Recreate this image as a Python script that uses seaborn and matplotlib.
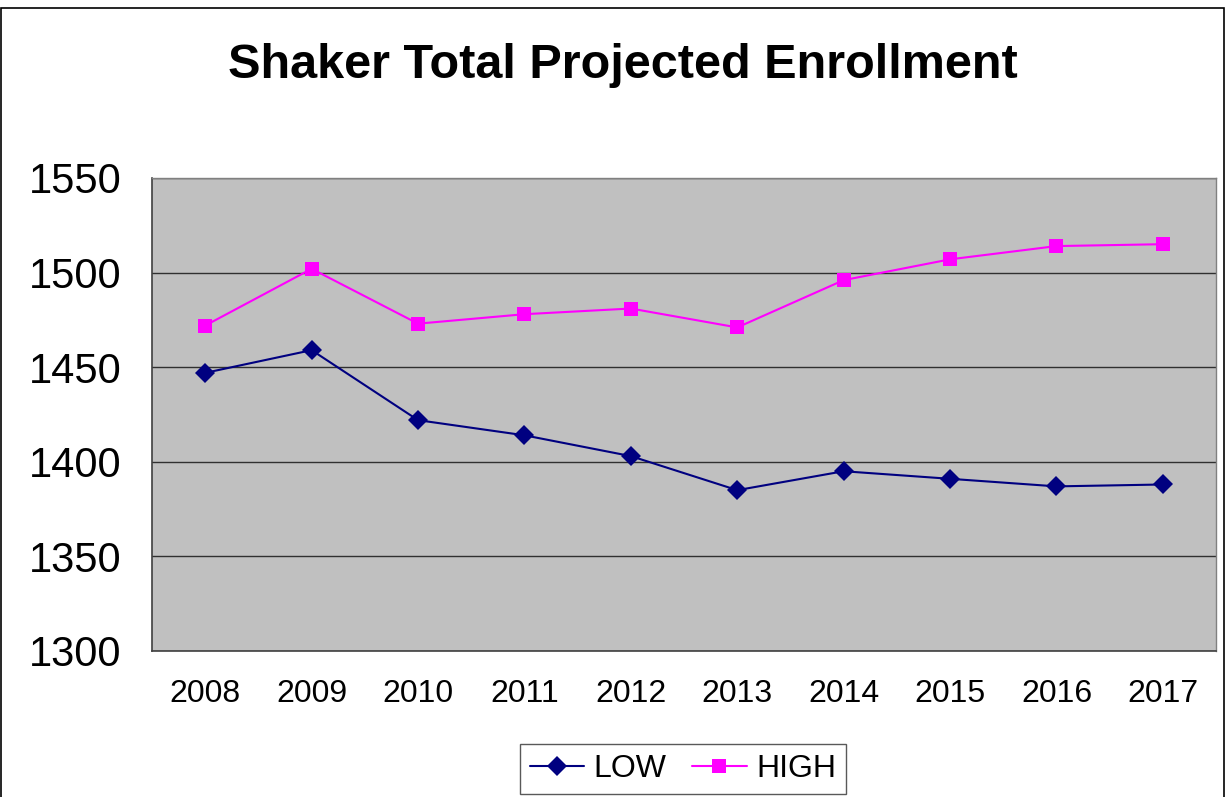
import numpy as np
import pandas as pd
import seaborn as sns
import matplotlib.pyplot as plt
from matplotlib.patches import Rectangle

years = ['2008', '2009', '2010', '2011', '2012', '2013', '2014', '2015', '2016', '2017']
low = [1447, 1459, 1422, 1414, 1403, 1385, 1395, 1391, 1387, 1388]
high = [1472, 1502, 1473, 1478, 1481, 1471, 1496, 1507, 1514, 1515]
y_ticks = [1300, 1350, 1400, 1450, 1500, 1550]

df = pd.DataFrame({'pos': list(range(len(years))) * 2,
                   'value': low + high,
                   'series': ['LOW'] * len(years) + ['HIGH'] * len(years)})

sns.set_style('white')
plt.rcParams['font.family'] = ['Liberation Sans', 'DejaVu Sans']
plt.rcParams['text.color'] = 'black'

fig = plt.figure(figsize=(12.25, 7.97), dpi=100)
ax = fig.add_axes([0.1241, 0.1832, 0.8686, 0.5935])
ax.set_facecolor('#C0C0C0')

palette = {'LOW': '#000080', 'HIGH': '#FF00FF'}
markers = {'LOW': 'D', 'HIGH': 's'}
sns.lineplot(data=df, x='pos', y='value', hue='series', style='series',
             palette=palette, markers=markers, dashes=False, markersize=10,
             markeredgewidth=0, linewidth=1.5, ax=ax, legend=True)

ax.set_xlim(-0.5, len(years) - 0.5)
ax.set_ylim(1300, 1550)
ax.set_yticks(y_ticks)
ax.set_yticklabels([str(t) for t in y_ticks], fontsize=30)
ax.set_xticks(range(len(years)))
ax.set_xticklabels(years, fontsize=23)
ax.set_xticks(np.arange(-0.5, len(years), 1.0), minor=True)
ax.tick_params(axis='x', which='major', length=0, pad=20, labelcolor='black')
ax.tick_params(axis='x', which='minor', length=8, width=1, color='#404040', direction='out')
ax.tick_params(axis='y', which='major', length=6, width=1, color='#404040', direction='out',
               pad=16, labelcolor='black')
ax.yaxis.grid(True, color='#303030', linewidth=1)
ax.xaxis.grid(False)
ax.set_axisbelow(True)
ax.set_xlabel('')
ax.set_ylabel('')

for side in ['left', 'bottom']:
    ax.spines[side].set_color('#404040')
    ax.spines[side].set_linewidth(1.2)
for side in ['top', 'right']:
    ax.spines[side].set_color('#808080')
    ax.spines[side].set_linewidth(1)

handles, labels = ax.get_legend_handles_labels()
leg = fig.legend(handles, labels, loc='center', bbox_to_anchor=(683 / 1225, 1 - 769 / 797),
                 ncol=2, fontsize=23, frameon=True, fancybox=False, edgecolor='#303030',
                 handlelength=1.7, columnspacing=0.8, handletextpad=0.3, borderpad=0.3,
                 borderaxespad=0)
leg.get_frame().set_linewidth(1)
ax.get_legend().remove()

fig.suptitle('Shaker Total Projected Enrollment', x=623 / 1225, y=1 - 65 / 797,
             va='center', fontsize=35, fontweight='bold', color='black')

fig.patches.append(Rectangle((0.0005, -0.01), 0.9985, 1.0, transform=fig.transFigure,
                             fill=False, edgecolor='black', linewidth=1.2))

fig.savefig('out.png', dpi=100)
